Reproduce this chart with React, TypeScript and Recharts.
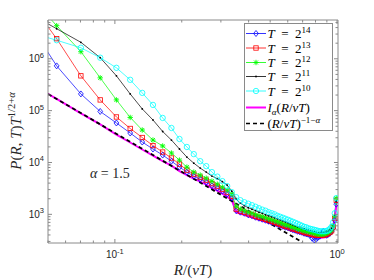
import React from 'react';
import { LineChart, Line, XAxis, YAxis, Legend } from 'recharts';

// bin centres R/(vT)
const xs = [
  0.0391, 0.0547, 0.0703, 0.0859, 0.1016, 0.1172, 0.1328, 0.1484, 0.1641, 0.1797,
  0.1953, 0.2109, 0.2266, 0.2422, 0.2578, 0.2734, 0.2891, 0.3047, 0.3203, 0.3359,
  0.3516, 0.3672, 0.3828, 0.3984, 0.4141, 0.4297, 0.4453, 0.4609, 0.4766, 0.4922,
  0.5078, 0.5234, 0.5391, 0.5547, 0.5703, 0.5859, 0.6016, 0.6172, 0.6328, 0.6484,
  0.6641, 0.6797, 0.6953, 0.7109, 0.7266, 0.7422, 0.7578, 0.7734, 0.7891, 0.8047,
  0.8203, 0.8359, 0.8516, 0.8672, 0.8828, 0.8984, 0.9141, 0.9297, 0.9453, 0.9609,
  0.9766, 0.9922,
];

const pT14 = [
  6.8e6, 7.3e5, 2.1e5, 9.65e4, 5.78e4, 3.7e4, 2.48e4, 1.82e4, 1.39e4, 1.06e4,
  8150, 6520, 5460, 4770, 4180, 3570, 3200, 2800, 2450, 2050,
  1174, 1100, 1050, 978, 939, 879, 840, 804, 769, 735,
  703, 673, 643, 615, 588, 563, 550, 526, 504, 492,
  471, 461, 450, 431, 421, 412, 394, 345, 323, 330,
  361, 377, 412, 471, 412, 394, 412, 431, 471, 538,
  769, 1570,
];

const pT13 = [
  1.73e7, 2.44e6, 4.69e5, 1.61e5, 7.55e4, 4.53e4, 3.03e4, 2.12e4, 1.59e4, 1.22e4,
  9300, 7130, 5970, 5220, 4570, 3910, 3500, 3060, 2680, 2240,
  1260, 1150, 1100, 1027, 978, 918, 879, 840, 804, 769,
  735, 703, 673, 643, 615, 588, 575, 550, 526, 515,
  492, 481, 471, 450, 440, 431, 421, 412, 403, 394,
  394, 394, 394, 394, 403, 412, 431, 450, 481, 575,
  840, 1870,
];

const pT12 = [
  2.16e7, 4.35e6, 1.37e6, 4.29e5, 1.61e5, 7.39e4, 4.23e4, 2.71e4, 2.08e4, 1.52e4,
  1.11e4, 8150, 6520, 5710, 4990, 4370, 3820, 3340, 2930, 2450,
  1430, 1260, 1174, 1100, 1050, 978, 939, 898, 860, 822,
  786, 752, 719, 688, 658, 629, 615, 588, 563, 550,
  526, 515, 492, 481, 471, 461, 450, 440, 431, 421,
  412, 412, 412, 412, 421, 431, 450, 471, 504, 601,
  918, 2050,
];

const pT11 = [
  8.5e6, 3.8e6, 2.08e6, 1.05e6, 4.69e5, 2.1e5, 1.08e5, 6.61e4, 3.96e4, 2.71e4,
  1.82e4, 1.27e4, 9700, 7790, 6520, 5460, 4880, 4270, 3660, 2800,
  1960, 1640, 1467, 1340, 1260, 1174, 1100, 1050, 978, 939,
  898, 860, 822, 786, 752, 719, 688, 658, 629, 601,
  575, 563, 538, 526, 504, 492, 481, 471, 461, 450,
  440, 440, 440, 440, 450, 461, 481, 504, 538, 629,
  960, 1790,
];

const pT10 = [
  3.48e6, 2.28e6, 1.63e6, 1.05e6, 6.7e5, 3.93e5, 2.2e5, 1.29e5, 7.23e4, 4.63e4,
  2.84e4, 1.99e4, 1.45e4, 1.06e4, 8500, 6520, 5340, 4370, 3500, 2680,
  2140, 1870, 1710, 1604, 1500, 1399, 1310, 1232, 1174, 1100,
  1050, 1000, 939, 898, 860, 822, 786, 752, 719, 688,
  658, 629, 601, 575, 563, 538, 526, 515, 504, 492,
  481, 471, 471, 471, 471, 481, 492, 526, 575, 703,
  1050, 2050,
];

const pIalpha = [
  3.93e5, 1.68e5, 8.83e4, 5.41e4, 3.46e4, 2.43e4, 1.78e4, 1.36e4, 1.06e4, 8700,
  6820, 5710, 4880, 4270, 3740, 3200, 2860, 2510, 2190, 1870,
  1100, 1027, 978, 918, 879, 822, 786, 752, 719, 688,
  658, 629, 601, 575, 550, 531, 515, 492, 475, 461,
  444, 431, 418, 407, 394, 385, 377, 369, 361, 358,
  353, 353, 353, 356, 361, 369, 385, 412, 450, 538,
  769, 1500,
];

// (R/vT)^(-1-alpha) reference line
const powerX = [0.05, 0.2, 0.7];
const powerY = [2.1e5, 6.6e3, 287];

const xTicks = [0.05, 0.06, 0.07, 0.08, 0.09, 0.1, 0.2, 0.3, 0.4, 0.5, 0.6, 0.7, 0.8, 0.9, 1];
const yTicks = [
  300, 400, 500, 600, 700, 800, 900,
  1e3, 2e3, 3e3, 4e3, 5e3, 6e3, 7e3, 8e3, 9e3,
  1e4, 2e4, 3e4, 4e4, 5e4, 6e4, 7e4, 8e4, 9e4,
  1e5, 2e5, 3e5, 4e5, 5e5, 6e5, 7e5, 8e5, 9e5,
  1e6, 2e6, 3e6, 4e6, 5e6,
];
const xExp: Record<string, string> = { '0.1': '-1', '1': '0' };
const yExp: Record<string, string> = { '1000': '3', '10000': '4', '100000': '5', '1000000': '6' };

const AX = '#8a8a8a';
const INK = '#262626';
const SANS = '"Liberation Sans", Arial, sans-serif';
const SERIF = '"Liberation Serif", "Times New Roman", serif';

const series = [
  { name: 'T = 2^14', exp: '14', values: pT14, color: '#0000ff', marker: 'diamond' },
  { name: 'T = 2^13', exp: '13', values: pT13, color: '#ff0000', marker: 'square' },
  { name: 'T = 2^12', exp: '12', values: pT12, color: '#00ff00', marker: 'star' },
  { name: 'T = 2^11', exp: '11', values: pT11, color: '#000000', marker: 'point' },
  { name: 'T = 2^10', exp: '10', values: pT10, color: '#00ffff', marker: 'circle' },
];

function marker(kind: string, cx: number, cy: number, color: string, key: string) {
  if (cx == null || cy == null) return <g key={key} />;
  switch (kind) {
    case 'diamond':
      return (
        <polygon key={key} points={`${cx},${cy - 3} ${cx + 2.4},${cy} ${cx},${cy + 3} ${cx - 2.4},${cy}`}
          fill="none" stroke={color} strokeWidth={0.8} />
      );
    case 'square':
      return <rect key={key} x={cx - 2.2} y={cy - 2.2} width={4.4} height={4.4} fill="none" stroke={color} strokeWidth={0.8} />;
    case 'star':
      return (
        <path key={key}
          d={`M${cx - 2.7},${cy}H${cx + 2.7}M${cx},${cy - 2.7}V${cy + 2.7}M${cx - 2},${cy - 2}L${cx + 2},${cy + 2}M${cx - 2},${cy + 2}L${cx + 2},${cy - 2}`}
          stroke={color} strokeWidth={0.9} />
      );
    case 'circle':
      return <circle key={key} cx={cx} cy={cy} r={2.7} fill="none" stroke={color} strokeWidth={0.8} />;
    default:
      return <circle key={key} cx={cx} cy={cy} r={0.9} fill={color} />;
  }
}

const makeTick = (side: string, exps: Record<string, string>, showText: boolean) => (props: any) => {
  const { x, y, payload } = props;
  const exp = exps[String(payload.value)];
  const len = exp !== undefined ? 4 : 2.5;
  let tick;
  if (side === 'bottom') tick = <line x1={x} x2={x} y1={y} y2={y - len} stroke={AX} />;
  else if (side === 'top') tick = <line x1={x} x2={x} y1={y} y2={y + len} stroke={AX} />;
  else if (side === 'left') tick = <line x1={x} x2={x + len} y1={y} y2={y} stroke={AX} />;
  else tick = <line x1={x} x2={x - len} y1={y} y2={y} stroke={AX} />;
  let text = null;
  if (showText && exp !== undefined) {
    if (side === 'bottom') {
      text = (
        <text x={x} y={y + 15} textAnchor="middle" fontFamily={SANS} fontSize={10} fill={INK}>
          10<tspan dy={-4.5} fontSize={7.5}>{exp}</tspan>
        </text>
      );
    } else {
      text = (
        <text x={x - 4} y={y + 3.5} textAnchor="end" fontFamily={SANS} fontSize={10} fill={INK}>
          10<tspan dy={-4.5} fontSize={7.5}>{exp}</tspan>
        </text>
      );
    }
  }
  return (
    <g>
      {tick}
      {text}
    </g>
  );
};

const xTitle = () => (
  <text x={193} y={275} textAnchor="middle" fontFamily={SERIF} fontSize={15} fill={INK}>
    <tspan fontStyle="italic">R</tspan>/(<tspan fontStyle="italic">vT</tspan>)
  </text>
);

const yTitle = () => (
  <text x={21} y={131} transform="rotate(-90 21 131)" textAnchor="middle" fontFamily={SERIF} fontSize={15} fill={INK}>
    <tspan fontStyle="italic">P</tspan>(<tspan fontStyle="italic">R</tspan>, <tspan fontStyle="italic">T</tspan>)
    <tspan fontStyle="italic">T</tspan>
    <tspan dy={-6} fontSize={10.5}>1/2+</tspan>
    <tspan fontSize={10.5} fontStyle="italic">α</tspan>
  </text>
);

const alphaNote = () => (
  <text x={90} y={177.5} fontFamily={SERIF} fontSize={14} fill={INK}>
    <tspan fontStyle="italic">α</tspan>{' = 1.5'}
  </text>
);

function LegendBox() {
  const rowY = [10.5, 25, 39.5, 53.5, 68, 84.5, 100.5];
  return (
    <svg width={90} height={109} style={{ display: 'block' }}>
      <rect x={0.5} y={0.5} width={88} height={107} fill="#fff" stroke={AX} />
      {series.map((s, i) => (
        <g key={s.name}>
          <line x1={2} x2={22} y1={rowY[i]} y2={rowY[i]} stroke={s.color} strokeWidth={0.8} />
          {marker(s.marker, 12, rowY[i], s.color, 'm' + i)}
          <text x={23.5} y={rowY[i] + 4.5} fontFamily={SERIF} fontSize={13} fill="#000">
            <tspan fontStyle="italic">T</tspan>{'\u2002=\u20022'}
            <tspan dy={-5} fontSize={9}>{s.exp}</tspan>
          </text>
        </g>
      ))}
      <line x1={2} x2={22} y1={rowY[5]} y2={rowY[5]} stroke="#ff00ff" strokeWidth={2} />
      <text x={23.5} y={rowY[5] + 4.5} fontFamily={SERIF} fontSize={13} fill="#000">
        <tspan fontStyle="italic">I</tspan>
        <tspan dy={3} fontSize={9} fontStyle="italic">α</tspan>
        <tspan dy={-3}>(</tspan>
        <tspan fontStyle="italic">R</tspan>/<tspan fontStyle="italic">vT</tspan>)
      </text>
      <line x1={2} x2={22} y1={rowY[6]} y2={rowY[6]} stroke="#000" strokeWidth={1.6} strokeDasharray="4 3" />
      <text x={23.5} y={rowY[6] + 4.5} fontFamily={SERIF} fontSize={13} fill="#000">
        (<tspan fontStyle="italic">R</tspan>/<tspan fontStyle="italic">vT</tspan>)
        <tspan dy={-5} fontSize={9}>−1−</tspan>
        <tspan fontSize={9} fontStyle="italic">α</tspan>
      </text>
    </svg>
  );
}

const App: React.FC = () => {
  const ialphaData = xs.map((x, i) => ({ x, y: pIalpha[i] }));
  const powerData = powerX.map((x, i) => ({ x, y: powerY[i] }));

  return (
    <div style={{ position: 'absolute', left: 0, top: 0, background: '#fff' }}>
      <LineChart width={374} height={280} margin={{ top: 19, right: 0, bottom: 0, left: 0 }}>
        <XAxis xAxisId="b" type="number" dataKey="x" scale="log" domain={[0.05, 1.01]} allowDataOverflow
          ticks={xTicks} interval={0} tick={makeTick('bottom', xExp, true)} tickSize={0} tickMargin={0}
          tickLine={false} height={37} axisLine={{ stroke: AX }} label={xTitle} />
        <XAxis xAxisId="t" orientation="top" type="number" dataKey="x" scale="log" domain={[0.05, 1.01]} allowDataOverflow
          ticks={xTicks} interval={0} tick={makeTick('top', xExp, false)} tickSize={0} tickMargin={0}
          tickLine={false} height={1} axisLine={{ stroke: AX }} label={alphaNote} />
        <YAxis yAxisId="l" type="number" scale="log" domain={[280, 5.6e6]} allowDataOverflow
          ticks={yTicks} interval={0} tick={makeTick('left', yExp, true)} tickSize={0} tickMargin={0}
          tickLine={false} width={48} axisLine={{ stroke: AX }} label={yTitle} />
        <YAxis yAxisId="r" orientation="right" type="number" scale="log" domain={[280, 5.6e6]} allowDataOverflow
          ticks={yTicks} interval={0} tick={makeTick('right', yExp, false)} tickSize={0} tickMargin={0}
          tickLine={false} width={36} axisLine={{ stroke: AX }} />
        {series.map((s) => (
          <Line key={s.name} name={s.name} xAxisId="b" yAxisId="l" type="linear"
            data={xs.map((x, i) => ({ x, y: s.values[i] }))} dataKey="y"
            stroke={s.color} strokeWidth={0.7} activeDot={false} isAnimationActive={false}
            dot={(p: any) => marker(s.marker, p.cx, p.cy, s.color, `${s.exp}-${p.index}`)} />
        ))}
        <Line name="I_alpha(R/vT)" xAxisId="b" yAxisId="l" type="linear" data={ialphaData} dataKey="y"
          stroke="#ff00ff" strokeWidth={2} dot={false} activeDot={false} isAnimationActive={false} />
        <Line name="(R/vT)^(-1-alpha)" xAxisId="b" yAxisId="l" type="linear" data={powerData} dataKey="y"
          stroke="#000" strokeWidth={1.8} strokeDasharray="4 3" dot={false} activeDot={false} isAnimationActive={false} />
        <Legend layout="vertical" align="center" verticalAlign="middle"
          wrapperStyle={{ left: 244, top: 23, width: 90, height: 109, lineHeight: 0 }}
          content={() => <LegendBox />} />
      </LineChart>
    </div>
  );
};

export default App;
